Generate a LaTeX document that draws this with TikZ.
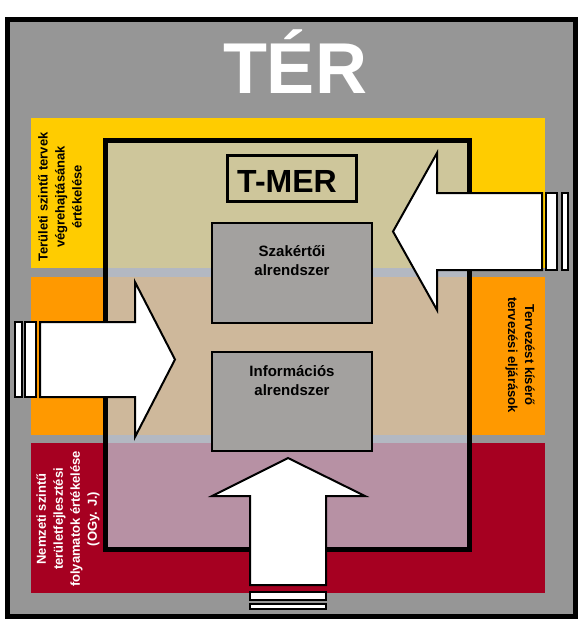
\documentclass[tikz,border=0pt]{standalone}
\usepackage{fontspec}
\setmainfont{Liberation Sans}
\usetikzlibrary{positioning}
\definecolor{tergray}{RGB}{150,150,150}
\definecolor{bandyellow}{RGB}{255,204,0}
\definecolor{bandorange}{RGB}{255,153,0}
\definecolor{bandred}{RGB}{166,0,33}
\definecolor{tmerfill}{RGB}{190,196,210}
\definecolor{boxgray}{RGB}{163,161,159}
\tikzset{
  subsys/.style = {draw=black, line width=2pt, fill=boxgray,
    minimum width=160pt, inner sep=0pt},
  subtext/.style = {align=center, inner sep=0pt,
    font=\fontsize{15}{19}\selectfont\bfseries},
  sidetext/.style = {align=center, inner sep=0pt,
    font=\fontsize{13}{17}\selectfont\bfseries},
  bigarrow/.style = {draw=black, line width=2pt, fill=white, line join=miter},
  strip/.style = {draw=black, line width=1.5pt, fill=white}
}
\begin{document}
\begin{tikzpicture}[x=1pt, y=-1pt]
\useasboundingbox (0,0) rectangle (585,631);
\fill[white] (0,0) rectangle (585,631);
\draw[line width=5pt, fill=tergray] (7.5,19.5) rectangle (575.5,616);
\fill[bandyellow] (31,118) rectangle (545,268);
\fill[bandorange] (31,277) rectangle (545,435);
\fill[bandred] (31,443) rectangle (545,593);
\node[font=\fontsize{72}{72}\selectfont\bfseries, text=white, anchor=base] (ter) at (295,94) {TÉR};
% T-MER
\fill[tmerfill, fill opacity=0.74] (105.5,140.5) rectangle (469.5,549);
\draw[line width=5pt] (105.5,140.5) rectangle (469.5,549);
\node[draw, line width=3pt, minimum width=129pt, minimum height=45pt] (tmerbox) at (291.5,178.5) {};
\node[font=\fontsize{32}{32}\selectfont\bfseries, inner sep=0pt] (tmer) at (287,181) {T-MER};
\node[subsys, minimum height=100pt] (szak) at (292,273) {};
\node[subsys, minimum height=99pt] (info) at (292,401.5) {};
\node[subtext, below=23pt of szak.north] (szaktext) {Szakértői\\alrendszer};
\node[subtext, below=14pt of info.north] (infotext) {Információs\\alrendszer};
% side texts
\node[sidetext, rotate=90] (terul) at (60,197) {Területi szintű tervek\\végrehajtásának\\értékelése};
\node[sidetext, rotate=-90] (tervez) at (520,355) {Tervezést kísérő\\tervezési eljárások};
\node[sidetext, rotate=90, text=white] (nemz) at (68,519) {Nemzeti szintű\\területfejlesztési\\folyamatok értékelése\\(OGy. J.)};
% arrows
\draw[bigarrow] (393,231.5) -- (437,153) -- (437,193) -- (542,193) -- (542,270) -- (437,270) -- (437,310) -- cycle;
\draw[strip] (546,193) rectangle (557,270);
\draw[strip] (562,193) rectangle (568,270);
\draw[bigarrow] (175,359.5) -- (135,282) -- (135,322) -- (40,322) -- (40,397) -- (135,397) -- (135,437) -- cycle;
\draw[strip] (15,322) rectangle (22,397);
\draw[strip] (25,322) rectangle (36,397);
\draw[bigarrow] (288,458) -- (365,496) -- (326,496) -- (326,585) -- (250,585) -- (250,496) -- (212,496) -- cycle;
\draw[strip] (250,592) rectangle (326,600);
\draw[strip] (250,604) rectangle (326,609);
\end{tikzpicture}
\end{document}
